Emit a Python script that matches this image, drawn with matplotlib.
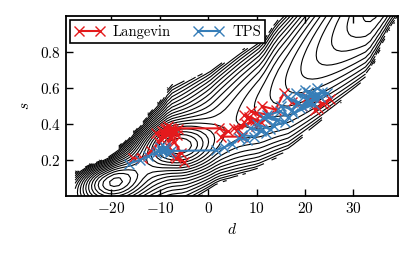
import numpy as np
import matplotlib
matplotlib.use('Agg')
import matplotlib.pyplot as plt

plt.rcParams['font.family'] = 'serif'
plt.rcParams['font.serif'] = ['cmr10', 'DejaVu Serif']
plt.rcParams['mathtext.fontset'] = 'cm'
plt.rcParams['axes.formatter.use_mathtext'] = True
plt.rcParams['axes.unicode_minus'] = True

edge_hi_d = [-28.0, -21.0, -17.0, -13.0, -9.8, -8.0, 0.2, 6.3, 11.0, 14.0, 40.0]
edge_hi_s = [0.15, 0.23, 0.33, 0.46, 0.56, 0.64, 0.72, 0.82, 0.89, 1.0, 1.6]
edge_lo_d = [-28.0, -5.0, 2.0, 10.0, 16.6, 24.2, 33.0, 37.7, 40.0]
edge_lo_s = [-0.30, -0.10, 0.05, 0.13, 0.23, 0.42, 0.64, 0.90, 1.0]
d_cut = -27.5

# wells (d, s, depth, width in d, width in s)
well_d = [-21.0, -7.0]
well_s = [0.09, 0.28]
well_depth = [8.0, 7.0]
well_wd = [5.5, 5.5]
well_ws = [0.10, 0.10]

# Langevin trajectory
red_d = [-15.6, -13.6, -11.9, -10.2, -9.1, -8.0, -7.2, -8.8, -6.5, -7.9, -9.9, -8.4, -6.9,
         -7.6, -10.8, -8.9, -7.0, -5.6, -6.6, -5.0, -6.8, -8.3, -7.4, -9.5, -6.2, -7.7, 2.2,
         4.0, 2.6, 6.9, 5.4, 7.8, 9.6, 6.2, 8.5, 10.9, 7.4, 9.9, 11.8, 8.8, 12.6, 11.0, 13.9,
         15.6, 17.2, 19.3, 21.0, 22.6, 20.4, 23.8, 25.2, 22.0, 24.2]
red_s = [0.21, 0.21, 0.25, 0.30, 0.33, 0.35, 0.37, 0.38, 0.34, 0.36, 0.32, 0.39, 0.36,
         0.33, 0.35, 0.37, 0.30, 0.24, 0.21, 0.19, 0.22, 0.28, 0.34, 0.36, 0.37, 0.376, 0.376,
         0.36, 0.33, 0.33, 0.38, 0.40, 0.42, 0.37, 0.44, 0.41, 0.45, 0.39, 0.43, 0.47, 0.45,
         0.50, 0.48, 0.57, 0.52, 0.50, 0.53, 0.49, 0.55, 0.51, 0.54, 0.48, 0.52]

# TPS trajectory
blue_d = [-16.3, -14.2, -12.4, -10.8, -9.6, -8.7, -9.9, -8.2, -9.3, -10.3, -8.9, -7.8, -9.5,
          1.6, 3.2, 4.9, 6.3, 8.1, 7.0, 9.4, 10.8, 8.6, 11.9, 10.1, 12.8, 14.2, 11.3, 13.5,
          15.8, 12.2, 14.9, 16.4, 15.1, 17.3, 18.6, 16.2, 19.4, 20.8, 18.1, 21.6, 19.9, 22.7,
          21.1, 23.6, 20.3, 22.4, 24.5, 19.0, 21.9, 17.6, 23.1, 20.7]
blue_s = [0.18, 0.20, 0.22, 0.24, 0.25, 0.26, 0.27, 0.24, 0.255, 0.25, 0.27, 0.25, 0.25,
          0.254, 0.27, 0.29, 0.32, 0.31, 0.34, 0.33, 0.36, 0.38, 0.35, 0.40, 0.37, 0.42, 0.44,
          0.39, 0.41, 0.45, 0.47, 0.44, 0.50, 0.48, 0.52, 0.55, 0.50, 0.53, 0.57, 0.55, 0.59,
          0.56, 0.52, 0.58, 0.54, 0.60, 0.57, 0.49, 0.51, 0.46, 0.55, 0.58]


def landscape():
    d = np.arange(-29.5, 40.0, 1.0)
    s = np.arange(-0.02, 1.04, 0.02)
    D, S = np.meshgrid(d, s)
    lo = np.interp(D, edge_lo_d, edge_lo_s)
    hi = np.interp(D, edge_hi_d, edge_hi_s)
    u = (S - lo) / (hi - lo)
    uc = np.clip(u, 1e-3, 1 - 1e-3)
    F = 24.0 * (uc - 0.5) ** 2 - 0.8 * np.log(uc * (1 - uc)) - 0.22 * D
    for i in range(len(well_d)):
        F -= well_depth[i] * np.exp(-0.5 * ((D - well_d[i]) / well_wd[i]) ** 2
                                    - 0.5 * ((S - well_s[i]) / well_ws[i]) ** 2)
    mask = (u < 0.02) | (u > 0.98) | (D < d_cut)
    return D, S, np.where(mask, np.nan, F)


def main():
    D, S, F = landscape()
    fig = plt.figure(figsize=(4.15, 2.57), dpi=100)
    ax = fig.add_axes([0.159, 0.237, 0.8, 0.701])
    levels = np.arange(np.nanmin(F) + 0.3, np.nanmax(F), 0.7)
    ax.contour(D, S, F, levels=levels, colors='k', linewidths=0.8, linestyles='solid')

    ax.plot(red_d, red_s, '-x', color='#e41a1c', lw=1.5, ms=7.5, mew=1.0, label='Langevin')
    ax.plot(blue_d, blue_s, '-x', color='#377eb8', lw=1.5, ms=7.5, mew=1.0, label='TPS')

    ax.set_xlim(-29.4, 39.2)
    ax.set_ylim(0.0, 1.0)
    ax.set_xticks([-20, -10, 0, 10, 20, 30])
    ax.set_yticks([0.2, 0.4, 0.6, 0.8])
    ax.tick_params(direction='in', length=5, width=1, top=True, right=True, labelsize=11)
    for sp in ax.spines.values():
        sp.set_linewidth(1.3)
    ax.set_xlabel('$d$', fontsize=11)
    ax.set_ylabel('$s$', fontsize=11, labelpad=6)
    leg = ax.legend(loc='upper left', ncol=2, numpoints=2, fancybox=False, fontsize=10.5,
                    edgecolor='k', framealpha=1, borderaxespad=0.3, columnspacing=1.6,
                    handlelength=2.0, handletextpad=0.6, borderpad=0.3)
    leg.get_frame().set_linewidth(1.2)
    fig.savefig('out.png', dpi=100)


if __name__ == '__main__':
    main()
